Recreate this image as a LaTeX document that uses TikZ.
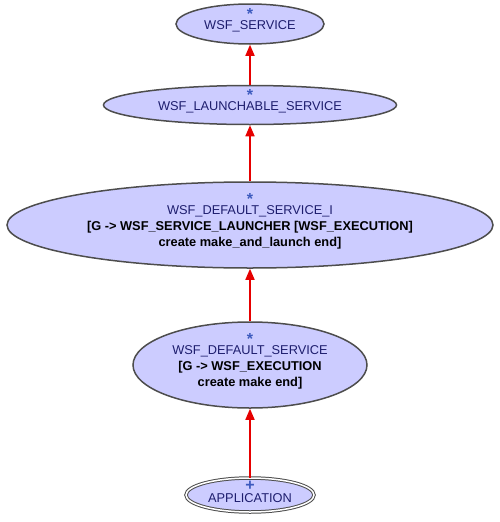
\documentclass[tikz,border=0pt]{standalone}
\usepackage{fontspec}
\setmainfont{Liberation Sans}
\usetikzlibrary{shapes.geometric,arrows.meta}

\definecolor{clsfill}{RGB}{204,204,255}
\definecolor{clsline}{RGB}{77,77,77}
\definecolor{clsname}{RGB}{30,30,110}
\definecolor{markblue}{RGB}{60,90,190}
\definecolor{deparrow}{RGB}{230,0,0}

\newcommand{\clsmark}[1]{{\color{markblue}\fontsize{16}{16}\selectfont\bfseries
  \raisebox{0pt}[4pt][0pt]{#1}}}

\begin{document}
\begin{tikzpicture}[x=1pt,y=-1pt]
         \tikzset{cls/.style={ellipse,draw=clsline,line width=1.5pt,fill=clsfill,
           inner sep=0pt,align=center,text=clsname,
           font=\fontsize{12.8}{16}\selectfont}}
         \tikzset{rootcls/.style={cls,line width=1pt,double=white,double distance=1.5pt}}
         \tikzset{inherit/.style={draw=deparrow,line width=1.6pt,
           -{Triangle[length=11pt,width=9pt]}}}
         \useasboundingbox (0,0) rectangle (499,522);
         \node[cls,minimum width=148,minimum height=40] (srv) at (250,24)
           {\clsmark{*}\\[-6pt] WSF\_SERVICE};
         \node[cls,minimum width=293,minimum height=39] (launch) at (250,105)
           {\clsmark{*}\\[-6pt] WSF\_LAUNCHABLE\_SERVICE};
         \node[cls,minimum width=486,minimum height=86] (dsrvi) at (250,225)
           {\clsmark{*}\\[-6pt] WSF\_DEFAULT\_SERVICE\_I\\
            \textcolor{black}{\bfseries [G -> WSF\_SERVICE\_LAUNCHER [WSF\_EXECUTION]}\\
            \textcolor{black}{\bfseries create make\_and\_launch end]}};
         \node[cls,minimum width=234,minimum height=86] (dsrv) at (250,365)
           {\clsmark{*}\\[-6pt] WSF\_DEFAULT\_SERVICE\\
            \textcolor{black}{\bfseries [G -> WSF\_EXECUTION}\\
            \textcolor{black}{\bfseries create make end]}};
         \node[rootcls,minimum width=128,minimum height=34] (app) at (250,495)
           {\clsmark{+}\\[-3.7pt] APPLICATION\rule[-1.7pt]{0pt}{1pt}};
         \draw[inherit] (launch.north) -- (srv.south);
         \draw[inherit] (dsrvi.north) -- (launch.south);
         \draw[inherit] (dsrv.north) -- (dsrvi.south);
         \draw[inherit] (app.north) -- (dsrv.south);
\end{tikzpicture}
\end{document}
